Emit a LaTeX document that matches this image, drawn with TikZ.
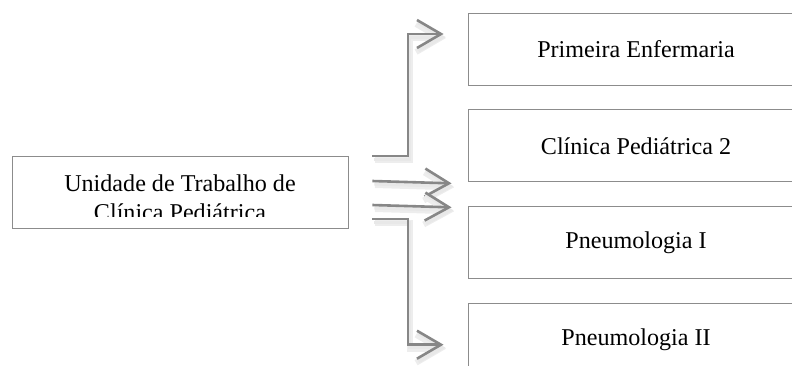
\documentclass[tikz,border=0pt]{standalone}
\usepackage{fontspec}
\setmainfont{Liberation Serif}
\usetikzlibrary{calc,arrows.meta,positioning}

\begin{document}
\begin{tikzpicture}[x=1bp,y=-1bp,>={Straight Barb[length=24bp,width=28bp]},
    every node/.style={font=\fontsize{24.2}{29}\selectfont},
    unitbox/.style={draw=black!45,line width=0.9bp,minimum width=336bp,
      minimum height=72bp,inner sep=0pt},
    feed/.style={->,draw=black!47,line width=2.6bp,line join=miter,
      preaction={draw=black!7,line width=6bp,
        transform canvas={shift={(2.5bp,-4bp)}}},
      preaction={draw=black!9,line width=3bp,
        transform canvas={shift={(2bp,-3bp)}}}}]
  \useasboundingbox (0,0) rectangle (792,365);
  \clip (0,0) rectangle (792,365);
  % units on the right, one under the other
  \node[unitbox] (enfermaria) at (636,49) {Primeira Enfermaria};
  \node[unitbox,below=24bp of enfermaria] (clinica) {Clínica Pediátrica 2};
  \node[unitbox,below=24bp of clinica] (pneumoI) {Pneumologia I};
  \node[unitbox,below=24bp of pneumoI] (pneumoII) {Pneumologia II};
  % the work unit, its second line is cut by the box
  \node[unitbox] (unidade) at (180,192) {};
  \begin{scope}
    \clip (unidade.north west) rectangle ($(unidade.east)+(0,24)$);
    \node[anchor=north,align=center,inner sep=0pt] (unidadetexto)
      at ($(unidade.north)+(0,19.5)$) {Unidade de Trabalho de\\Clínica Pediátrica};
  \end{scope}
  % arrows leaving the work unit
  \coordinate (saida) at ($(unidade.east)+(24,0)$);
  \draw[feed] ($(saida)+(0,-36)$) -- ++(35.5,0) |- ($(enfermaria.west)+(-24,-15)$);
  \draw[feed] ($(saida)+(0,-11)$) -- ($(clinica.south west)+(-16,1)$);
  \draw[feed] ($(saida)+(0,13)$) -- ($(pneumoI.north west)+(-16,1)$);
  \draw[feed] ($(saida)+(0,27)$) -- ++(35.5,0) |- ($(pneumoII.west)+(-24,5)$);
\end{tikzpicture}
\end{document}
